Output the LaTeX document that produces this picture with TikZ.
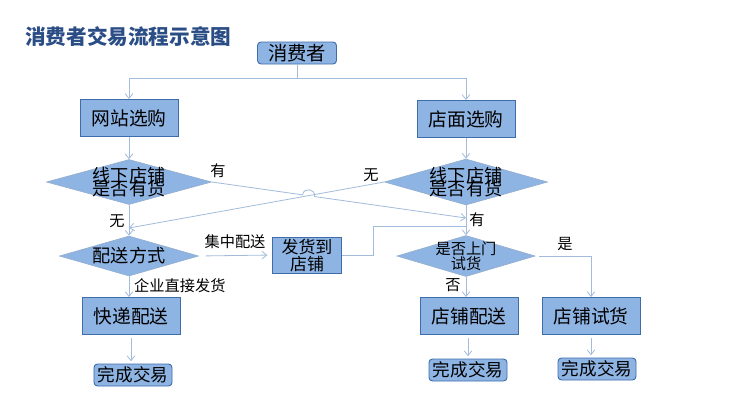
\documentclass[tikz,border=0pt]{standalone}
\usepackage{fontspec}
\newfontfamily\cjk{Noto Sans CJK SC}
\usepackage{xcolor}
\definecolor{boxfill}{HTML}{8EB4E3}
\definecolor{boxline}{HTML}{3F6DAA}
\definecolor{flowline}{HTML}{A3BCDB}
\definecolor{titleblue}{HTML}{2A4D86}
\usetikzlibrary{arrows.meta,positioning,shapes.geometric,calc}
\newcommand\tightlines{\lineskiplimit=-50pt\relax\lineskip=0pt\relax}

\begin{document}
\begin{tikzpicture}[x=0.03cm,y=-0.03cm,
  box/.style={draw=boxline,fill=boxfill,line width=0.8pt,inner sep=0pt,align=center,
    minimum width=2.94cm,minimum height=1.11cm,font=\cjk\fontsize{16}{18}\selectfont},
  term/.style={box,rounded corners=3pt,minimum width=2.34cm,minimum height=0.66cm,
    font=\cjk\fontsize{15}{17}\selectfont},
  decision/.style={diamond,draw=boxline!55,fill=boxfill,line width=0.6pt,inner sep=0pt},
  dtext/.style={align=center,inner sep=0pt,font=\cjk\fontsize{15.5}{11.5}\selectfont\tightlines},
  lab/.style={inner sep=0pt,font=\cjk\fontsize{13}{15}\selectfont},
  flow/.style={draw=flowline,line width=0.7pt,-{Straight Barb[length=4pt,width=6.5pt]}}]
  \useasboundingbox (0,0) rectangle (733,411);
  % title
  \node[anchor=west,inner sep=0pt,text=titleblue,font=\cjk\bfseries\fontsize{17.6}{20}\selectfont] (title) at (25,37) {消费者交易流程示意图};
  % consumer
  \node[term,minimum width=2.37cm,font=\cjk\fontsize{16.5}{18}\selectfont] (consumer) at (297,53) {消费者};
  \coordinate (split) at (297,78);
  % shopping channels
  \node[box] (web) at (129,118) {网站选购};
  \node[box] (shop) at (466,119) {店面选购};
  \draw[flow,-] (consumer) -- (split);
  \draw[flow] (split) -| (web);
  \draw[flow] (split) -| (shop);
  % stock checks
  \node[decision,minimum width=4.95cm,minimum height=1.35cm] (stockL) at (129,182) {};
  \node[dtext] (stockLt) at (stockL) {线下店铺\\是否有货};
  \node[decision,minimum width=4.89cm,minimum height=1.38cm] (stockR) at (466,182) {};
  \node[dtext] (stockRt) at (stockR) {线下店铺\\是否有货};
  \draw[flow] (web) -- (stockL);
  \draw[flow] (shop) -- (stockR);
  % delivery mode
  \node[decision,minimum width=4.17cm,minimum height=1.2cm] (mode) at (129,256) {};
  \node[dtext] (modet) at (mode) {配送方式};
  \node[box,minimum width=2.07cm,minimum height=1.08cm,font=\cjk\fontsize{14.5}{14.5}\selectfont\tightlines] (send) at (307,255) {发货到\\店铺};
  % try on
  \node[decision,minimum width=4.14cm,minimum height=1.23cm] (tryon) at (466,256) {};
  \node[dtext,font=\cjk\fontsize{13}{12.5}\selectfont\tightlines] (tryont) at (tryon) {是否上门\\试货};
  % crossing links
  \coordinate (hasL) at (466,218);
  \coordinate (noR) at (129,228);
  \coordinate (joinR) at (466,226);
  \draw[flow] (stockL.east) -- ($(stockL.east)!0.357!(hasL)$)
    to[bend left=90,looseness=1.7] ($(stockL.east)!0.404!(hasL)$) -- (hasL);
  \node[lab] (hasLlab) at (218,171) {有};
  \draw[flow] (stockR.west) -- (noR);
  \node[lab] (noRlab) at (371,175) {无};
  \draw[flow] (stockL.south) -- (mode.north);
  \node[lab] (noLlab) at (117,221) {无};
  \draw[flow] (stockR.south) -- (tryon.north);
  \node[lab] (hasRlab) at (477,220) {有};
  \draw[flow,shorten <=6pt,shorten >=4pt] (mode.east) -- (send.west);
  \node[lab] (centrallab) at (235,242) {集中配送};
  \draw[flow,-] (send.east) -- ++(31,0) |- (joinR);
  % final steps
  \node[box] (express) at (131,316) {快递配送};
  \node[box] (shopdel) at (469,316) {店铺配送};
  \node[box] (shoptry) at (591,316) {店铺试货};
  \node[term] (doneA) at (133,375) {完成交易};
  \node[term] (doneB) at (468,370) {完成交易};
  \node[term] (doneC) at (597,369) {完成交易};
  \draw[flow] (mode.south) -- (mode.south |- express.north);
  \node[lab,anchor=west] (directlab) at (134,286) {企业直接发货};
  \draw[flow] (tryon.south) -- (tryon.south |- shopdel.north);
  \node[lab] (nolab) at (453,285) {否};
  \draw[flow,shorten <=3pt] (tryon.east) -| (shoptry.north);
  \node[lab] (yeslab) at (565,244) {是};
  \draw[flow,shorten <=3pt,shorten >=2pt] (express.south) -- (express.south |- doneA.north);
  \draw[flow,shorten <=3pt,shorten >=2pt] (shopdel.south -| doneB) -- (doneB.north);
  \draw[flow,shorten <=3pt,shorten >=2pt] (shoptry.south) -- (shoptry.south |- doneC.north);
\end{tikzpicture}
\end{document}
